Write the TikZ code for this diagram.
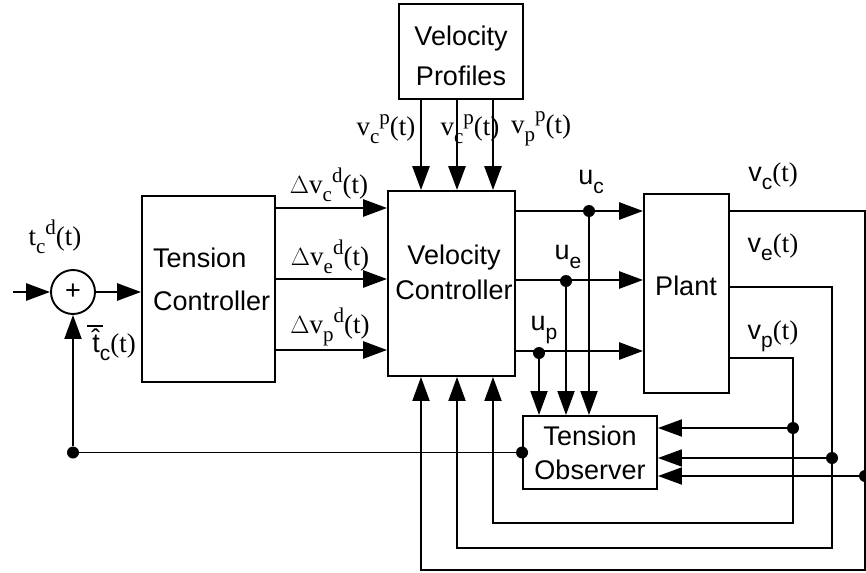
\documentclass[tikz,border=0pt]{standalone}
\usepackage{fontspec}
\setmainfont{Liberation Serif}
\setsansfont{Liberation Sans}
\usetikzlibrary{arrows.meta,calc}
\newcommand{\mysub}[1]{\raisebox{-0.3em}{\fontsize{21}{21}\selectfont #1}}
\newcommand{\mysup}[1]{\raisebox{0.42em}{\fontsize{21}{21}\selectfont #1}}
\begin{document}
\begin{tikzpicture}[x=1pt,y=-1pt,
  box/.style={draw,line width=1.9pt,inner sep=0pt},
  sig/.style={line width=2.8pt,-{Triangle[length=24pt,width=17pt]}},
  fb/.style={line width=1.9pt},
  fbarrow/.style={line width=1.9pt,-{Triangle[length=24pt,width=17pt]}},
  dot/.style={circle,fill,inner sep=0pt,minimum size=12pt},
  blk/.style={font=\sffamily\fontsize{27}{#1}\selectfont,align=center,inner sep=0pt},
  lbl/.style={font=\fontsize{27}{32}\selectfont,inner sep=0pt},
  slbl/.style={font=\sffamily\fontsize{27}{32}\selectfont,inner sep=0pt}]
\useasboundingbox (0,0) rectangle (866,572);
\clip (0,0) rectangle (866,572);
% blocks
\node[box,minimum width=124pt,minimum height=95pt] (vp) at (461,51.5) {};
\node[blk=40] (vpt) at (461,56) {Velocity\\Profiles};
\node[box,minimum width=127pt,minimum height=185pt] (vc) at (451.5,283.5) {};
\node[blk=35] (vct) at (454,272) {Velocity\\Controller};
\node[box,minimum width=133pt,minimum height=186pt] (tc) at (208.5,289) {};
\node[blk=43,align=left,anchor=west] (tct) at (153,279) {Tension\\Controller};
\node[box,minimum width=85pt,minimum height=199pt] (plant) at (686.5,293.5) {};
\node[blk=32] (plt) at (686,286) {Plant};
\node[box,minimum width=134pt,minimum height=73pt] (to) at (590,452.5) {};
\node[blk=34] (tot) at (590,453) {Tension\\Observer};
\node[draw,circle,line width=1.9pt,minimum size=44pt,inner sep=0pt,font=\sffamily\fontsize{27}{32}\selectfont] (sum) at (73,292) {+};
% coordinates
\coordinate (in) at (13,292);
\coordinate (r1) at (0,208); \coordinate (r2) at (0,279); \coordinate (r3) at (0,350);
\coordinate (q1) at (0,211); \coordinate (q2) at (0,280); \coordinate (q3) at (0,351);
\coordinate (o2) at (0,287); \coordinate (o3) at (0,358);
\coordinate (c1) at (421,0); \coordinate (c2) at (457,0); \coordinate (c3) at (493,0);
\coordinate (xc) at (865,0); \coordinate (xe) at (832,0); \coordinate (xp) at (793,0);
\coordinate (b1) at (0,523); \coordinate (b2) at (0,548); \coordinate (b3) at (0,570);
\coordinate (t1) at (0,428); \coordinate (t2) at (0,458); \coordinate (t3) at (0,476);
% input and sum
\draw[sig] (in) -- (sum.west);
\draw[sig] (sum.east) -- (sum.east -| tc.west);
% TC -> VC
\draw[sig] (tc.east |- r1) -- (vc.west |- r1);
\draw[sig] (tc.east |- r2) -- (vc.west |- r2);
\draw[sig] (tc.east |- r3) -- (vc.west |- r3);
% VP -> VC
\draw[sig] (vp.south -| c1) -- (vc.north -| c1);
\draw[sig] (vp.south -| c2) -- (vc.north -| c2);
\draw[sig] (vp.south -| c3) -- (vc.north -| c3);
% VC -> Plant
\draw[sig] (vc.east |- q1) -- (plant.west |- q1);
\draw[sig] (vc.east |- q2) -- (plant.west |- q2);
\draw[sig] (vc.east |- q3) -- (plant.west |- q3);
% u taps to observer
\node[dot] (duc) at (589,211) {};
\node[dot] (due) at (566,281) {};
\node[dot] (dup) at (539,353) {};
\draw[fbarrow] (duc) -- (duc |- to.north);
\draw[fbarrow] (due) -- (due |- to.north);
\draw[fbarrow] (dup) -- (dup |- to.north);
% plant outputs
\draw[fbarrow] (plant.east |- q1) -| (xc |- b3) -| (vc.south -| c1);
\draw[fbarrow] (plant.east |- o2) -| (xe |- b2) -| (vc.south -| c2);
\draw[fbarrow] (plant.east |- o3) -| (xp |- b1) -| (vc.south -| c3);
\node[dot] (dvp) at (xp |- t1) {};
\node[dot] (dve) at (xe |- t2) {};
\node[dot] (dvc) at (xc |- t3) {};
\draw[fbarrow] (dvp) -- (to.east |- t1);
\draw[fbarrow] (dve) -- (to.east |- t2);
\draw[fbarrow] (dvc) -- (to.east |- t3);
% observer feedback
\node[dot] (dto) at (to.west) {};
\node[dot] (dfb) at (sum |- to.west) {};
\draw[fb] (dto) -- (dfb);
\draw[fbarrow] (dfb) -- (sum.south);
% labels
\node[lbl] (ltd) at (55,237) {t\mysub{c}\mysup{d}(t)};
\node[lbl] (lth) at (114,343) {\rlap{\hspace{-0.2em}\raisebox{0.95em}{\rule{0.6em}{1.6pt}}}{\sffamily t̂}\mysub{\sffamily c}(t)};
\node[lbl] (lv1) at (386,129) {v\mysub{c}\mysup{p}(t)};
\node[lbl] (lv2) at (470,129) {v\mysub{c}\mysup{p}(t)};
\node[lbl] (lv3) at (541,129) {v\mysub{p}\mysup{p}(t)};
\node[lbl] (ld1) at (329,185) {$\Delta$v\mysub{c}\mysup{d}(t)};
\node[lbl] (ld2) at (330,257) {$\Delta$v\mysub{e}\mysup{d}(t)};
\node[lbl] (ld3) at (330,327) {$\Delta$v\mysub{p}\mysup{d}(t)};
\node[slbl] (luc) at (591,182) {u\mysub{c}};
\node[slbl] (lue) at (568,257) {u\mysub{e}};
\node[slbl] (lup) at (544,330) {u\mysub{p}};
\node[lbl] (lvc) at (773,176) {{\sffamily v\mysub{c}}(t)};
\node[lbl] (lve) at (773,247) {{\sffamily v\mysub{e}}(t)};
\node[lbl] (lvp) at (773,336) {{\sffamily v\mysub{p}}(t)};
\end{tikzpicture}
\end{document}
